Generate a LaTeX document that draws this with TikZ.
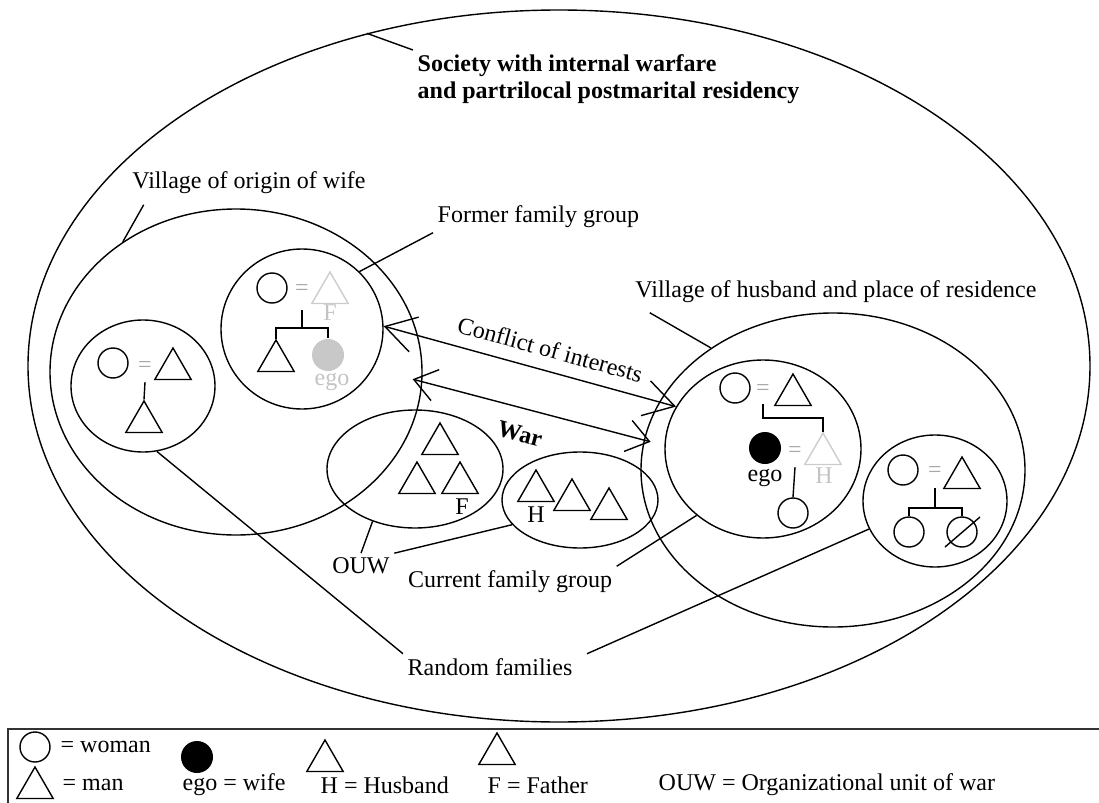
\documentclass[tikz,border=0pt]{standalone}
\usepackage{fontspec}
\setmainfont{Liberation Serif}
\usetikzlibrary{shapes.geometric,arrows.meta,positioning}

\definecolor{paleline}{HTML}{CCCCCC}
\definecolor{paletext}{HTML}{C4C4C4}
\definecolor{eqgray}{HTML}{A8A8A8}
\definecolor{egofill}{HTML}{C8C8C8}

\tikzset{
  zone/.style={ellipse, draw, inner sep=0pt},
  woman/.style={circle, draw, minimum size=15pt, inner sep=0pt},
  man/.style={regular polygon, regular polygon sides=3, draw, minimum size=21pt, inner sep=0pt},
  pale/.style={draw=paleline},
  paletxt/.style={text=paletext, inner sep=1pt},
  ego/.style={circle, fill=black, minimum size=16pt, inner sep=0pt},
  egopale/.style={circle, fill=egofill, minimum size=16pt, inner sep=0pt},
  eq/.style={text=eqgray, inner sep=1pt},
  lbl/.style={inner sep=2pt},
  conflict/.style={arrows={Straight Barb[length=15pt,width=18pt]-Straight Barb[length=15pt,width=18pt]}},
  war/.style={arrows={Straight Barb[length=11pt,width=16pt]-Straight Barb[length=11pt,width=16pt]}}
}

\begin{document}
\begin{tikzpicture}[x=0.5pt,y=-0.5pt,line width=0.7pt,font=\fontsize{12}{13.5}\selectfont]
  \useasboundingbox (0,0) rectangle (1099,803);

  % areas
  \node[zone, minimum width=531pt, minimum height=356pt] (society) at (559,366) {};
  \node[zone, minimum width=186pt, minimum height=163pt] (origin) at (236,372) {};
  \node[zone, minimum width=72pt, minimum height=66pt] (randL) at (143,386) {};
  \node[zone, minimum width=81pt, minimum height=80pt] (former) at (302,329) {};
  \node[zone, minimum width=88pt, minimum height=59pt] (ouw) at (415,469) {};
  \node[zone, minimum width=78pt, minimum height=48pt] (hgrp) at (580,500) {};
  \node[zone, minimum width=192pt, minimum height=157pt] (husb) at (833,470) {};
  \node[zone, minimum width=98pt, minimum height=89pt] (current) at (763,449) {};
  \node[zone, minimum width=72pt, minimum height=66pt] (randR) at (935,501) {};

  % labels
  \node[lbl, anchor=north west, align=left, font=\fontsize{12}{13.5}\selectfont\bfseries] (title) at (413,50)
    {Society with internal warfare\\and partrilocal postmarital residency};
  \draw (society.120.6) -- (title.north west);
  \node[lbl] (vorig) at (249,183) {Village of origin of wife};
  \draw (origin.131) -- ([xshift=8pt,yshift=-3pt]vorig.south west);
  \node[lbl, anchor=west] (fform) at (433,217) {Former family group};
  \draw (former.45) -- (fform.south west);
  \node[lbl] (vhusb) at (836,292) {Village of husband and place of residence};
  \draw (husb.135) -- ([xshift=9.5pt,yshift=-2.5pt]vhusb.south west);
  \node[lbl] (ouwl) at (361,566) {OUW};
  \draw (ouw.-129) -- (ouwl.north);
  \draw (hgrp.200) -- (ouwl.north east);
  \node[lbl] (curl) at (510,582) {Current family group};
  \draw (current.-135) -- (curl.north east);
  \node[lbl] (randl) at (490,667) {Random families};
  \draw (randL.-78) -- (randl.north west);
  \draw (randR.-157) -- ([xshift=5pt]randl.north east);

  % arrows
  \draw[conflict] (former.2) -- node[sloped, above=3pt, pos=0.55] {Conflict of interests} (current.154);
  \draw[war, shorten <=-5pt, shorten >=-3.5pt] (origin.-3) --
    node[sloped, below=5pt, pos=0.47, font=\fontsize{12}{13.5}\selectfont\bfseries] {War} (husb.171.3);

  % random family, left
  \node[woman] (wa) at (113,363) {};
  \node[eq] (eqa) at (145,367) {=};
  \node[man] (ma) at (173,369) {};
  \node[man] (sa) at (144,422) {};
  \draw ([yshift=-3.5pt]eqa.south) -- (sa.north);

  % former family group
  \node[woman] (wb) at (272,288) {};
  \node[eq] (eqb) at (302,290) {=};
  \node[man, pale] (fb) at (330,293) {};
  \node[paletxt] (fbl) at (330,313) {F};
  \node[man] (sb) at (276,361) {};
  \node[egopale] (egob) at (328,355) {};
  \node[paletxt] (egobl) at (332,382) {ego};
  \draw ([yshift=-6pt]eqb.south) -- ++(0,18) -| (sb.north);
  \draw ([yshift=-6pt]eqb.south) ++(0,18) -| (egob.north);

  % organizational unit of war
  \node[man] (o1) at (440,444) {};
  \node[man] (o2) at (417,483) {};
  \node[man] (o3) at (460,483) {};
  \node[inner sep=1pt] (ofl) at (462,507) {F};
  \node[man] (h1) at (536,491) {};
  \node[man] (h2) at (572,500) {};
  \node[man] (h3) at (609,509) {};
  \node[inner sep=1pt] (hl) at (536,515) {H};

  % current family group
  \node[woman] (wc) at (735,388) {};
  \node[eq] (eqc) at (763,390) {=};
  \node[man] (mc) at (793,395) {};
  \node[man, pale] (hc) at (823,454) {};
  \node[paletxt] (hcl) at (824,476) {H};
  \node[ego] (egoc) at (765,448) {};
  \node[eq] (eqc2) at (795,452) {=};
  \node[inner sep=1pt] (egocl) at (765,478) {ego};
  \node[woman] (dc) at (793,513) {};
  \draw ([yshift=-3pt]eqc.south) -- ++(0,14) -| (hc.north);
  \draw ([yshift=-3.5pt]eqc2.south) -- (dc.north);

  % random family, right
  \node[woman] (wr) at (903,470) {};
  \node[eq] (eqr) at (935,472) {=};
  \node[man] (mr) at (962,478) {};
  \node[woman] (dr1) at (909,532) {};
  \node[woman] (dr2) at (962,532) {};
  \draw ([yshift=-4pt]eqr.south) -- ++(0,20) -| (dr1.north);
  \draw ([yshift=-4pt]eqr.south) ++(0,20) -| (dr2.north);
  \draw ([shift={(-17,15)}]dr2.center) -- ([shift={(18,-15)}]dr2.center);

  % legend
  \draw[draw=black!80, line width=0.9pt] (8,803) |- (1099,729);
  \node[woman] (lw) at (35,747) {};
  \node[lbl, anchor=west] (lwt) at (56,747) {= woman};
  \node[man] (lm) at (35,788) {};
  \node[lbl, anchor=west] (lmt) at (58,785) {= man};
  \node[ego] (le) at (197,757) {};
  \node[lbl, anchor=west] (let) at (178,785) {ego = wife};
  \node[man] (lh) at (325,761) {};
  \node[lbl, anchor=west] (lht) at (316,785) {H = Husband};
  \node[man] (lf) at (497,754) {};
  \node[lbl, anchor=west] (lft) at (483,785) {F = Father};
  \node[lbl, anchor=west] (lot) at (654,785) {OUW = Organizational unit of war};
\end{tikzpicture}
\end{document}
